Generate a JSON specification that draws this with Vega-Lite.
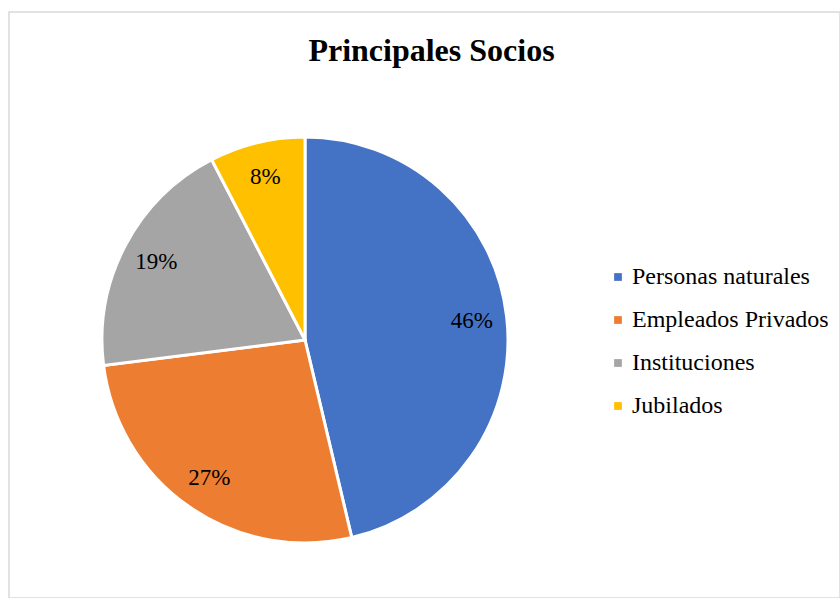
{
  "$schema": "https://vega.github.io/schema/vega-lite/v6.json",
  "autosize": "none",
  "width": 831,
  "height": 586,
  "padding": {"left": 9, "top": 12, "right": 0, "bottom": 0},
  "background": "white",
  "view": {"stroke": "#d9d9d9", "strokeWidth": 1.5},
  "config": {
    "view": {"stroke": "#d9d9d9", "strokeWidth": 1.5},
    "font": "Liberation Serif"
  },
  "title": {
    "text": "Principales Socios",
    "font": "Liberation Serif",
    "fontSize": 32,
    "fontWeight": "bold",
    "color": "#000000",
    "anchor": "middle",
    "frame": "group",
    "orient": "top",
    "baseline": "alphabetic",
    "offset": -81,
    "dx": 7
  },
  "data": {
    "values": [
      {"socio": "Personas naturales", "pct": 0.463, "orden": 1},
      {"socio": "Empleados Privados", "pct": 0.267, "orden": 2},
      {"socio": "Instituciones", "pct": 0.194, "orden": 3},
      {"socio": "Jubilados", "pct": 0.076, "orden": 4}
    ]
  },
  "encoding": {
    "theta": {"field": "pct", "type": "quantitative", "stack": true},
    "order": {"field": "orden", "type": "quantitative"},
    "color": {
      "field": "socio",
      "type": "nominal",
      "sort": ["Personas naturales", "Empleados Privados", "Instituciones", "Jubilados"],
      "scale": {
        "domain": ["Personas naturales", "Empleados Privados", "Instituciones", "Jubilados"],
        "range": ["#4472C4", "#ED7D31", "#A5A5A5", "#FFC000"]
      },
      "legend": {
        "title": null,
        "orient": "none",
        "legendX": 597,
        "legendY": 253,
        "symbolType": "square",
        "symbolSize": 60,
        "symbolStrokeWidth": 0,
        "labelFont": "Liberation Serif",
        "labelFontSize": 24,
        "labelColor": "#000000",
        "labelLimit": 300,
        "rowPadding": 19,
        "labelOffset": 2
      }
    }
  },
  "layer": [
    {
      "mark": {"type": "arc", "radius": 203, "x": 296, "y": 328, "stroke": "white", "strokeWidth": 3}
    },
    {
      "mark": {"type": "text", "radius": 168, "x": 296, "y": 328, "font": "Liberation Serif", "fontSize": 23, "color": "#000000"},
      "encoding": {
        "text": {"field": "pct", "type": "quantitative", "format": ".0%"},
        "color": {"value": "#000000"}
      }
    }
  ]
}
